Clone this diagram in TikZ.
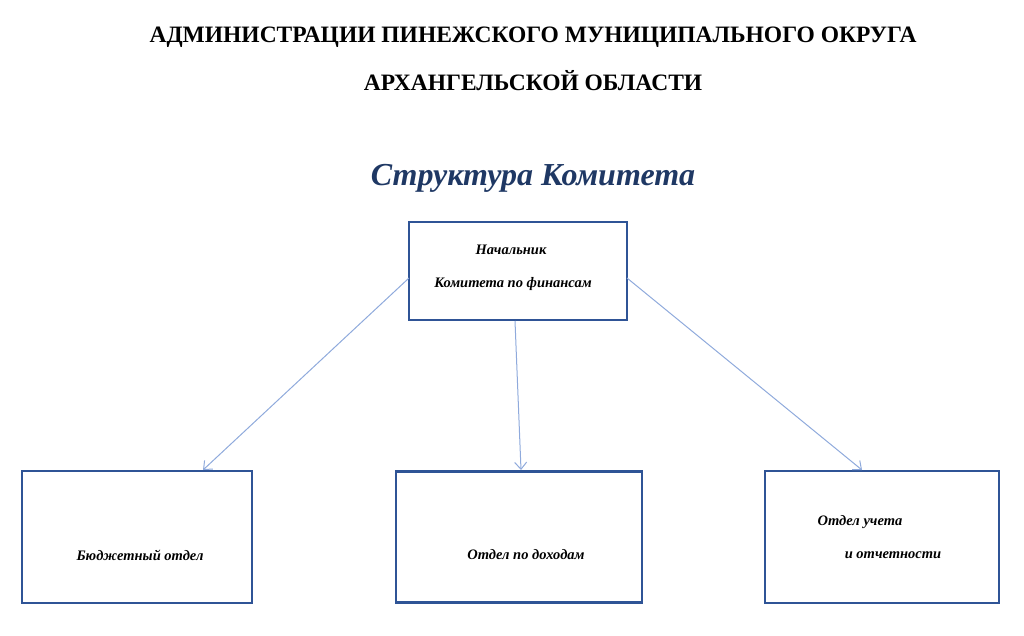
\documentclass[tikz,border=0pt]{standalone}
\usepackage{fontspec}
\setmainfont{Liberation Serif}
\usetikzlibrary{arrows.meta}
\definecolor{boxblue}{HTML}{2F5496}
\definecolor{lineblue}{HTML}{8FAADC}
\definecolor{titleblue}{HTML}{1F3864}
\begin{document}
\begin{tikzpicture}[x=1pt,y=-1pt,
    unit/.style = {draw=boxblue, line width=2.6pt, inner sep=0pt},
    label/.style = {font=\fontsize{14.5}{17}\selectfont\bfseries\itshape, align=center},
    conn/.style = {draw=lineblue, line width=1pt, -{Straight Barb[length=7pt,width=12pt]}}]
  \useasboundingbox (0,0) rectangle (1024,635);
  \node (head1) at (533,37) {\fontsize{23.5}{28}\selectfont\bfseries АДМИНИСТРАЦИИ ПИНЕЖСКОГО МУНИЦИПАЛЬНОГО ОКРУГА};
  \node (head2) at (533,81) {\fontsize{23.5}{28}\selectfont\bfseries АРХАНГЕЛЬСКОЙ ОБЛАСТИ};
  \node[text=titleblue] (title) at (533,178) {\fontsize{32}{38}\selectfont\bfseries\itshape Структура Комитета};

  \node[unit, minimum width=218pt, minimum height=98pt] (chief) at (518,271) {};
  \node[label] at (511,250) {Начальник};
  \node[label] at (513,284) {Комитета по финансам};

  \node[unit, minimum width=230pt, minimum height=132pt] (budget) at (137,537) {};
  \node[label] at (140,555) {Бюджетный отдел};
  \node[unit, minimum width=246pt, minimum height=131pt] (income) at (519,537) {};
  \node[label] at (526,555) {Отдел по доходам};
  \node[unit, minimum width=234pt, minimum height=132pt] (report) at (882,537) {};
  \node[label] at (860,522) {Отдел учета};
  \node[label] at (893,555) {и отчетности};

  \coordinate (cL) at (409,278);
  \coordinate (cM) at (515,321);
  \coordinate (cR) at (627,278);
  \draw[conn] (cL) -- (203,470);
  \draw[conn] (cM) -- (521,470);
  \draw[conn] (cR) -- (862,470);
\end{tikzpicture}
\end{document}
